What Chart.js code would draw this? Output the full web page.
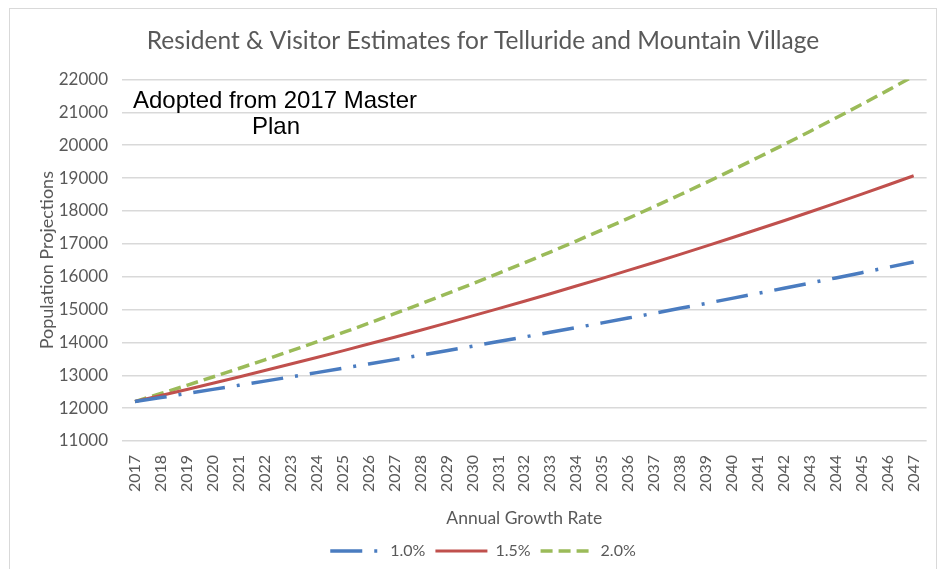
<!DOCTYPE html>
<html>
<head>
<meta charset="utf-8">
<script src="https://cdn.jsdelivr.net/npm/chart.js@4/dist/chart.umd.min.js"></script>
<style>
  html, body { margin: 0; padding: 0; background: #fff; }
  #wrap { position: relative; width: 939px; height: 569px; }
  #frame { position: absolute; left: 9px; top: 8px; width: 928px; height: 570px; border: 1px solid #d9d9d9; box-sizing: border-box; }
  canvas { position: absolute; left: 0; top: 0; }
</style>
</head>
<body>
<div id="wrap">
  <div id="frame"></div>
  <canvas id="popChart" width="939" height="569"></canvas>
</div>
<script>
const years = ['2017','2018','2019','2020','2021','2022','2023','2024','2025','2026',
  '2027','2028','2029','2030','2031','2032','2033','2034','2035','2036',
  '2037','2038','2039','2040','2041','2042','2043','2044','2045','2046','2047'];

const growth10 = [12200,12322,12445,12570,12695,12822,12951,13080,13211,13343,
  13476,13611,13747,13885,14024,14164,14306,14449,14593,14739,
  14887,15036,15186,15338,15491,15646,15803,15961,16120,16282,16444];

const growth15 = [12200,12383,12569,12757,12949,13143,13340,13540,13743,13949,
  14158,14371,14586,14805,15027,15253,15481,15714,15949,16189,
  16431,16678,16928,17182,17440,17701,17967,18236,18510,18788,19069];

const growth20 = [12200,12444,12693,12947,13206,13470,13739,14014,14294,14580,
  14872,15169,15473,15782,16098,16420,16748,17083,17425,17773,
  18129,18491,18861,19238,19623,20016,20416,20824,21241,21666,22099];

const seriesNames = ['1.0%', '1.5%', '2.0%'];

const grey = '#595959';
const font = 'Lato, "Open Sans", sans-serif';

// text box sitting in the upper left of the plot
const noteBox = {
  id: 'noteBox',
  afterDraw(chart) {
    const ctx = chart.ctx;
    ctx.save();
    ctx.fillStyle = '#000';
    ctx.font = '24px "Liberation Sans", Arial, sans-serif';
    ctx.textAlign = 'center';
    ctx.textBaseline = 'alphabetic';
    ctx.fillText('Adopted from 2017 Master', 275, 108);
    ctx.fillText('Plan', 276, 134);
    ctx.restore();
  }
};

const ctx = document.getElementById('popChart').getContext('2d');
const popChart = new Chart(ctx, {
  type: 'line',
  data: {
    labels: years,
    datasets: [{
      label: seriesNames[0],
      data: growth10,
      borderColor: '#4a7cc0',
      backgroundColor: '#4a7cc0',
      borderWidth: 3.5,
      borderDash: [32, 12, 3, 12],
      pointRadius: 0
    }, {
      label: seriesNames[1],
      data: growth15,
      borderColor: '#c0504d',
      backgroundColor: '#c0504d',
      borderWidth: 3,
      pointRadius: 0
    }, {
      label: seriesNames[2],
      data: growth20,
      borderColor: '#9bbb59',
      backgroundColor: '#9bbb59',
      borderWidth: 3.5,
      borderDash: [12, 6],
      pointRadius: 0
    }]
  },
  options: {
    responsive: false,
    animation: false,
    layout: { padding: { left: 36, right: 9, top: 18, bottom: 0 } },
    plugins: {
      title: {
        display: true,
        text: 'Resident & Visitor Estimates for Telluride and Mountain Village',
        color: grey,
        font: { family: font, size: 24.5, weight: 'normal' },
        padding: { top: 8, bottom: 24 }
      },
      legend: {
        position: 'bottom',
        labels: {
          color: grey,
          font: { family: font, size: 16 },
          usePointStyle: true,
          pointStyle: 'line',
          pointStyleWidth: 52,
          boxHeight: 10,
          padding: 10,
          // keep each series' dash pattern in its legend sample
          generateLabels(chart) {
            return chart.data.datasets.map((ds, i) => ({
              text: ds.label,
              datasetIndex: i,
              strokeStyle: ds.borderColor,
              fillStyle: ds.borderColor,
              fontColor: grey,
              lineWidth: ds.borderWidth,
              lineDash: ds.borderDash || [],
              lineCap: 'butt',
              pointStyle: 'line',
              hidden: false
            }));
          }
        }
      },
      tooltip: { enabled: false }
    },
    scales: {
      x: {
        offset: true,
        afterFit(scale) { scale.height = 92; },
        grid: { display: false },
        border: { display: false },
        ticks: {
          color: grey,
          font: { family: font, size: 16 },
          minRotation: 90,
          maxRotation: 90,
          autoSkip: false,
          padding: 6
        },
        title: {
          display: true,
          text: 'Annual Growth Rate',
          color: grey,
          font: { family: font, size: 17.5 },
          padding: { top: 14, bottom: 4 }
        }
      },
      y: {
        min: 11000,
        max: 22000,
        afterFit(scale) { scale.width = 86; },
        grid: { color: '#d9d9d9', lineWidth: 1.5, drawTicks: false },
        border: { display: false },
        ticks: {
          stepSize: 1000,
          color: grey,
          font: { family: font, size: 17 },
          padding: 14,
          callback: v => String(v)
        },
        title: {
          display: true,
          text: 'Population Projections',
          color: grey,
          font: { family: font, size: 18 },
          padding: { top: 0, bottom: 0 }
        }
      }
    }
  },
  plugins: [noteBox]
});
</script>
</body>
</html>
